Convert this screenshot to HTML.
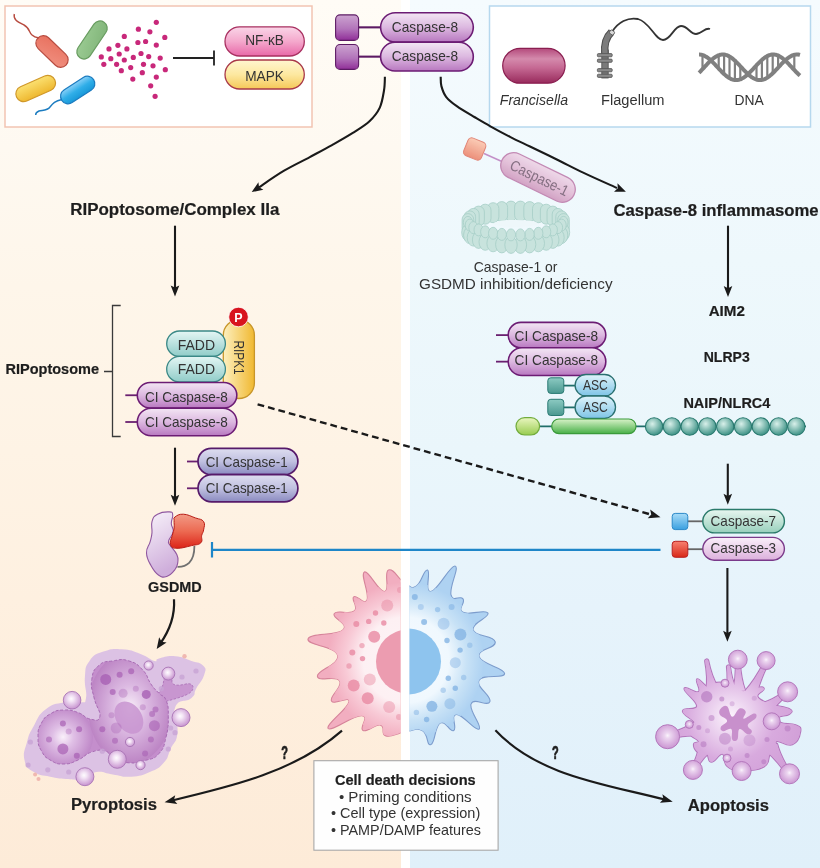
<!DOCTYPE html>
<html><head><meta charset="utf-8"><style>
html,body{margin:0;padding:0;background:#fff;}
svg{display:block;font-family:"Liberation Sans",sans-serif;will-change:transform;}
</style></head><body>
<svg width="820" height="868" viewBox="0 0 820 868">
<defs><linearGradient id="bgL" x1="0" y1="0" x2="0" y2="1"><stop offset="0" stop-color="#fffcf6"/><stop offset="0.17" stop-color="#fef9f1"/><stop offset="0.33" stop-color="#fef6ea"/><stop offset="0.52" stop-color="#fef3e5"/><stop offset="0.69" stop-color="#fef0e0"/><stop offset="1" stop-color="#fdebd8"/></linearGradient><linearGradient id="bgR" x1="0" y1="0" x2="0" y2="1"><stop offset="0" stop-color="#f5fbfe"/><stop offset="0.3" stop-color="#eef8fc"/><stop offset="0.52" stop-color="#eaf6fb"/><stop offset="0.7" stop-color="#e6f3fb"/><stop offset="1" stop-color="#e0f0fa"/></linearGradient><linearGradient id="gC8" x1="0" y1="0" x2="0" y2="1"><stop offset="0" stop-color="#f3e6f4"/><stop offset="0.5" stop-color="#dcb8e0"/><stop offset="1" stop-color="#b878c0"/></linearGradient><linearGradient id="gSq8" x1="0" y1="0" x2="0" y2="1"><stop offset="0" stop-color="#cca4d0"/><stop offset="0.55" stop-color="#b274ba"/><stop offset="1" stop-color="#902e98"/></linearGradient><linearGradient id="gNF" x1="0" y1="0" x2="0" y2="1"><stop offset="0" stop-color="#fad6e8"/><stop offset="0.5" stop-color="#f4a8cc"/><stop offset="1" stop-color="#e868a8"/></linearGradient><linearGradient id="gMAPK" x1="0" y1="0" x2="0" y2="1"><stop offset="0" stop-color="#fff6d0"/><stop offset="0.5" stop-color="#fde8a0"/><stop offset="1" stop-color="#f5c858"/></linearGradient><linearGradient id="gFADD" x1="0" y1="0" x2="0" y2="1"><stop offset="0" stop-color="#e4f6f4"/><stop offset="1" stop-color="#90ccc8"/></linearGradient><linearGradient id="gRIPK" x1="0" y1="0" x2="1" y2="0"><stop offset="0" stop-color="#fdf0c0"/><stop offset="1" stop-color="#f0b830"/></linearGradient><linearGradient id="gC1" x1="0" y1="0" x2="0" y2="1"><stop offset="0" stop-color="#dedef0"/><stop offset="0.5" stop-color="#c0c0e0"/><stop offset="1" stop-color="#8a8ac0"/></linearGradient><linearGradient id="gASC" x1="0" y1="0" x2="0" y2="1"><stop offset="0" stop-color="#e0f4fb"/><stop offset="1" stop-color="#7ec4e6"/></linearGradient><linearGradient id="gSqT" x1="0" y1="0" x2="0" y2="1"><stop offset="0" stop-color="#8ccac2"/><stop offset="1" stop-color="#4a9890"/></linearGradient><linearGradient id="gGreen" x1="0" y1="0" x2="0" y2="1"><stop offset="0" stop-color="#d8f2c8"/><stop offset="1" stop-color="#48b048"/></linearGradient><linearGradient id="gLime" x1="0" y1="0" x2="0" y2="1"><stop offset="0" stop-color="#eaf6c0"/><stop offset="1" stop-color="#98cc50"/></linearGradient><radialGradient id="gBead" cx="0.4" cy="0.35" r="0.6" fx="0.4" fy="0.35"><stop offset="0" stop-color="#d8f0ea"/><stop offset="1" stop-color="#4a9a8e"/></radialGradient><linearGradient id="gC7" x1="0" y1="0" x2="0" y2="1"><stop offset="0" stop-color="#e8f6f0"/><stop offset="1" stop-color="#98d0bc"/></linearGradient><linearGradient id="gC3" x1="0" y1="0" x2="0" y2="1"><stop offset="0" stop-color="#faf0fa"/><stop offset="1" stop-color="#dcb0dc"/></linearGradient><linearGradient id="gSqB" x1="0" y1="0" x2="0" y2="1"><stop offset="0" stop-color="#a8dcf8"/><stop offset="1" stop-color="#3aa0e0"/></linearGradient><linearGradient id="gSqR" x1="0" y1="0" x2="0" y2="1"><stop offset="0" stop-color="#f88070"/><stop offset="1" stop-color="#d82818"/></linearGradient><linearGradient id="gFran" x1="0" y1="0" x2="0" y2="1"><stop offset="0" stop-color="#b44a7c"/><stop offset="0.3" stop-color="#d48aac"/><stop offset="0.55" stop-color="#c66a94"/><stop offset="1" stop-color="#982a5c"/></linearGradient><linearGradient id="gRed" x1="0" y1="0" x2="1" y2="1"><stop offset="0" stop-color="#e8705e"/><stop offset="1" stop-color="#f09080"/></linearGradient><linearGradient id="gGr" x1="0" y1="0" x2="1" y2="1"><stop offset="0" stop-color="#9ccc94"/><stop offset="1" stop-color="#80b478"/></linearGradient><linearGradient id="gYe" x1="0" y1="0" x2="0" y2="1"><stop offset="0" stop-color="#fbe070"/><stop offset="1" stop-color="#eeb830"/></linearGradient><linearGradient id="gBl" x1="0" y1="0" x2="0" y2="1"><stop offset="0" stop-color="#8ad0f8"/><stop offset="0.5" stop-color="#30aee8"/><stop offset="1" stop-color="#1898d8"/></linearGradient><linearGradient id="gC1f" x1="0" y1="0" x2="0" y2="1"><stop offset="0" stop-color="#eed6e8"/><stop offset="0.5" stop-color="#e2bcd6"/><stop offset="1" stop-color="#d09cc0"/></linearGradient><linearGradient id="gSqS" x1="0" y1="0" x2="0" y2="1"><stop offset="0" stop-color="#fcc8b0"/><stop offset="1" stop-color="#ec8870"/></linearGradient><linearGradient id="gLav" x1="0" y1="0" x2="0.3" y2="1"><stop offset="0" stop-color="#f8f2fa"/><stop offset="0.4" stop-color="#e8d8ee"/><stop offset="1" stop-color="#cfaedb"/></linearGradient><linearGradient id="gRedB" x1="0" y1="0" x2="0" y2="1"><stop offset="0" stop-color="#f29a86"/><stop offset="0.5" stop-color="#ec6a52"/><stop offset="1" stop-color="#dc2418"/></linearGradient><clipPath id="clipL"><rect x="0" y="0" width="400.5" height="868"/></clipPath><clipPath id="clipR"><rect x="409.5" y="0" width="420" height="868"/></clipPath><radialGradient id="gPink" cx="0.5" cy="0.5" r="0.5" fx="0.5" fy="0.5"><stop offset="0" stop-color="#fdf4f6"/><stop offset="0.55" stop-color="#fdf0f3"/><stop offset="0.78" stop-color="#f8cad6"/><stop offset="1" stop-color="#f2aec0"/></radialGradient><radialGradient id="gBlue" cx="0.5" cy="0.5" r="0.5" fx="0.5" fy="0.5"><stop offset="0" stop-color="#f6fbff"/><stop offset="0.55" stop-color="#f0f8fe"/><stop offset="0.78" stop-color="#c8e2f6"/><stop offset="1" stop-color="#aed2f2"/></radialGradient><clipPath id="cellclip"><path d="M405.0,583.0 C411.9,587.0 410.5,589.5 416.1,586.2 C421.7,583.0 423.8,568.7 427.5,570.0 C431.2,571.3 424.0,592.5 430.9,591.5 C437.8,590.5 450.0,565.1 455.0,566.0 C460.0,566.9 449.0,586.7 451.0,594.9 C453.0,603.1 460.0,594.5 463.0,598.9 C466.0,603.2 456.8,608.8 463.0,612.3 C469.2,615.8 485.4,608.6 487.9,613.0 C490.4,617.4 471.3,622.6 473.1,629.8 C474.9,637.0 493.7,635.1 495.2,641.8 C496.7,648.5 476.8,648.8 479.1,656.7 C481.5,664.6 504.6,667.6 504.6,673.5 C504.6,679.4 482.8,673.2 479.1,680.2 C475.4,687.2 491.9,695.7 489.9,701.6 C487.9,707.5 473.8,696.8 471.1,703.7 C468.4,710.6 482.8,726.4 479.1,729.1 C475.4,731.8 462.7,714.0 456.3,714.4 C449.9,714.8 457.7,728.3 453.7,730.5 C449.7,732.7 445.9,719.6 440.2,723.1 C434.5,726.6 435.4,742.8 430.9,744.6 C426.4,746.5 428.6,733.6 422.1,730.5 C415.6,727.4 414.1,730.6 405.0,732.0 C395.9,733.4 392.0,737.6 385.9,735.9 C379.8,734.2 386.2,726.5 380.5,725.1 C374.8,723.8 367.7,732.9 363.0,730.5 C358.3,728.1 370.4,716.2 361.7,715.7 C353.0,715.2 331.4,732.0 328.2,728.5 C325.0,725.0 348.2,708.5 349.0,701.6 C349.8,694.7 333.9,706.2 331.5,701.0 C329.1,695.8 343.1,687.1 339.6,680.9 C336.1,674.7 317.9,682.6 317.4,676.2 C316.9,669.8 340.0,664.7 337.6,655.4 C335.2,646.1 306.6,645.4 308.0,639.0 C309.4,632.6 336.4,636.1 343.0,629.8 C349.6,623.5 331.4,618.4 334.2,613.7 C337.0,609.0 349.4,615.2 354.3,611.0 C359.2,606.8 350.5,599.6 353.7,596.9 C356.9,594.1 364.3,606.2 367.0,600.0 C369.7,593.8 360.0,574.1 364.4,572.0 C368.8,569.9 378.5,592.0 384.5,591.5 C390.5,591.0 383.4,572.1 388.5,570.0 C393.6,567.9 398.1,579.0 405.0,583.0 Z"/></clipPath><radialGradient id="gBub" cx="0.45" cy="0.42" r="0.58" fx="0.45" fy="0.42"><stop offset="0" stop-color="#fefcfe"/><stop offset="0.28" stop-color="#f3e4f5"/><stop offset="1" stop-color="#c894d0"/></radialGradient><radialGradient id="gPyroL" cx="0.5" cy="0.5" r="0.5" fx="0.5" fy="0.5"><stop offset="0" stop-color="#faf0fa"/><stop offset="0.35" stop-color="#e0c0e6"/><stop offset="1" stop-color="#bf88c8"/></radialGradient><radialGradient id="gPyroU" cx="0.5" cy="0.5" r="0.5" fx="0.5" fy="0.5"><stop offset="0" stop-color="#f8eef8"/><stop offset="0.4" stop-color="#dcbae2"/><stop offset="1" stop-color="#bc84c4"/></radialGradient><clipPath id="pyroclip"><path d="M38.0,737.0 C38.0,729.5 38.0,729.3 41.5,723.0 C45.0,716.7 45.0,717.0 51.0,713.5 C57.0,710.0 56.8,710.3 64.0,710.0 C71.2,709.7 71.1,710.1 78.0,712.5 C84.9,714.9 84.2,717.9 90.0,719.0 C95.8,720.1 98.8,722.1 99.9,716.5 C101.0,710.9 96.3,707.8 94.1,697.9 C91.9,688.0 90.5,688.0 91.8,679.4 C93.1,670.8 93.2,670.4 98.8,665.5 C104.4,660.6 104.7,662.1 112.7,660.9 C120.7,659.7 120.9,658.4 128.9,660.9 C136.9,663.4 136.9,663.9 142.8,670.1 C148.7,676.3 146.6,677.8 150.9,684.0 C155.2,690.2 155.0,689.0 159.0,693.3 C163.0,697.6 163.5,694.0 166.0,700.2 C168.5,706.4 168.3,706.6 168.3,716.5 C168.3,726.4 168.5,727.4 166.0,737.3 C163.5,747.2 164.6,747.3 159.0,753.5 C153.4,759.7 153.1,758.0 145.1,760.5 C137.1,763.0 137.5,763.4 128.9,762.8 C120.3,762.2 118.9,761.3 112.7,758.2 C106.5,755.1 111.3,752.9 105.7,751.2 C100.1,749.5 99.2,749.7 91.8,752.0 C84.4,754.3 85.4,756.8 78.0,760.0 C70.6,763.2 71.2,763.9 64.0,764.0 C56.8,764.1 57.0,764.0 51.0,760.5 C45.0,757.0 45.0,757.3 41.5,751.0 C38.0,744.7 38.0,744.5 38.0,737.0 Z"/></clipPath><radialGradient id="gApo" cx="0.45" cy="0.45" r="0.5" fx="0.45" fy="0.45"><stop offset="0" stop-color="#fcf4fc"/><stop offset="0.22" stop-color="#efdaf2"/><stop offset="0.62" stop-color="#d8aade"/><stop offset="1" stop-color="#d2a0d8"/></radialGradient><radialGradient id="gBubA" cx="0.5" cy="0.45" r="0.58" fx="0.5" fy="0.45"><stop offset="0" stop-color="#fbf4fc"/><stop offset="0.2" stop-color="#ecd6f0"/><stop offset="1" stop-color="#c890d0"/></radialGradient><clipPath id="apoclip"><path d="M712.0,684.0 C715.9,682.8 720.6,682.3 725.0,683.0 C729.4,683.7 727.9,686.0 731.0,687.0 C734.1,688.0 735.6,686.2 738.4,687.2 C741.2,688.2 739.1,691.0 743.2,691.2 C747.3,691.4 751.2,688.6 756.0,688.0 C760.8,687.4 763.5,686.8 763.8,688.8 C764.1,690.8 756.0,693.2 757.4,696.7 C758.8,700.2 762.6,701.1 770.0,704.0 C777.4,706.9 784.6,706.7 789.0,709.0 C793.4,711.3 791.6,712.1 789.0,714.0 C786.4,715.9 779.9,715.2 778.0,717.3 C776.1,719.4 776.9,721.2 781.0,723.0 C785.1,724.8 791.0,723.2 795.5,725.2 C800.0,727.2 800.9,727.1 800.2,731.6 C799.5,736.1 797.8,742.1 792.3,744.3 C786.8,746.5 779.8,739.8 776.5,741.1 C773.2,742.4 779.5,747.0 778.0,750.0 C776.5,753.0 773.4,749.9 770.1,753.8 C766.8,757.6 770.4,762.7 763.8,766.5 C757.1,770.3 750.1,770.1 741.6,770.0 C733.1,769.9 731.7,769.8 727.3,766.0 C722.9,762.2 726.3,754.8 722.6,753.8 C718.9,752.8 715.2,761.7 711.5,761.7 C707.8,761.7 709.9,756.1 706.7,753.8 C703.6,751.5 701.0,754.2 698.0,752.0 C695.0,749.8 693.8,746.8 694.0,744.3 C694.2,741.8 699.7,743.7 698.8,741.1 C697.9,738.5 690.7,737.1 690.0,733.0 C689.3,728.9 697.3,728.8 695.6,723.7 C693.9,718.6 682.5,715.1 682.9,711.0 C683.3,706.9 696.8,711.4 697.2,706.2 C697.6,701.0 684.1,692.1 684.5,688.8 C684.9,685.5 695.8,694.2 698.8,692.0 C701.8,689.8 695.0,680.2 697.2,679.3 C699.4,678.4 704.8,686.9 708.3,688.0 C711.8,689.1 708.1,685.2 712.0,684.0 Z"/><path d="M735.8,662.1 Q736.3,678.9 733.0,691.1 L745.0,690.5 Q740.7,678.7 739.8,661.9 A2.0,2.0 0 0 0 735.8,662.1 Z"/><path d="M764.3,662.1 Q755.1,680.0 745.3,691.0 L756.0,696.4 Q759.0,682.0 767.9,663.9 A2.0,2.0 0 0 0 764.3,662.1 Z"/><path d="M783.6,692.2 Q773.3,699.8 763.7,702.7 L771.0,712.3 Q776.3,703.8 786.4,695.8 A2.2,2.2 0 0 0 783.6,692.2 Z"/><path d="M670.6,738.4 Q686.3,734.5 698.6,735.6 L695.0,722.0 Q684.9,729.1 669.4,733.6 A2.5,2.5 0 0 0 670.6,738.4 Z"/><path d="M696.0,769.1 Q702.2,758.4 709.6,752.2 L699.1,746.4 Q697.8,756.0 692.0,766.9 A2.2,2.2 0 0 0 696.0,769.1 Z"/><path d="M788.9,769.8 Q780.1,755.8 777.0,743.8 L766.1,750.9 Q775.9,758.6 785.1,772.2 A2.2,2.2 0 0 0 788.9,769.8 Z"/><path d="M705.2,661.3 Q708.3,677.5 706.3,689.9 L718.0,687.6 Q711.5,676.9 708.2,660.7 A1.5,1.5 0 0 0 705.2,661.3 Z"/><path d="M727.0,667.2 Q728.4,679.8 726.6,689.3 L735.6,688.3 Q731.6,679.4 730.0,666.8 A1.5,1.5 0 0 0 727.0,667.2 Z"/></clipPath></defs>
<rect x="0" y="0" width="401" height="868" fill="url(#bgL)"/>
<rect x="401" y="0" width="9" height="868" fill="#ffffff"/>
<rect x="410" y="0" width="410" height="868" fill="url(#bgR)"/>
<rect x="5" y="6" width="307" height="121" fill="#ffffff" stroke="#f2c4b2" stroke-width="1.5"/>
<rect x="489.5" y="6" width="321" height="121" fill="#ffffff" stroke="#b6d8ee" stroke-width="1.5"/>
<g transform="translate(52,51.5) rotate(44)"><rect x="-19.5" y="-7.5" width="39" height="15" rx="7.5" fill="url(#gRed)" stroke="#b84c40" stroke-width="1.2"/></g>
<path d="M14.3,14 C13,20 18,22 24,25 C30,28 29,33 32,35 C34,37 36,37.5 39,38" fill="none" stroke="#b84c40" stroke-width="1.4"/>
<g transform="translate(92,40) rotate(-56)"><rect x="-21.5" y="-7.25" width="43" height="14.5" rx="7.25" fill="url(#gGr)" stroke="#689c60" stroke-width="1.2"/></g>
<g transform="translate(35.7,88.5) rotate(-24)"><rect x="-21.0" y="-7.75" width="42" height="15.5" rx="7.75" fill="url(#gYe)" stroke="#d0982a" stroke-width="1.2"/></g>
<g transform="translate(77.7,90) rotate(-33)"><rect x="-19.0" y="-7.5" width="38" height="15" rx="7.5" fill="url(#gBl)" stroke="#1c7cc0" stroke-width="1.2"/></g>
<path d="M62,99.5 C55,101 53,103 50,107 C47,111 42,110 39,111 C36.5,112 35.5,113 35.7,115" fill="none" stroke="#1c7cc0" stroke-width="1.4"/>
<circle cx="156.3" cy="22.3" r="2.6" fill="#c8287a"/>
<circle cx="138.4" cy="29.2" r="2.6" fill="#c8287a"/>
<circle cx="149.9" cy="31.8" r="2.6" fill="#c8287a"/>
<circle cx="124.3" cy="36.4" r="2.6" fill="#c8287a"/>
<circle cx="164.8" cy="37.4" r="2.6" fill="#c8287a"/>
<circle cx="137.9" cy="42.5" r="2.6" fill="#c8287a"/>
<circle cx="145.6" cy="41.5" r="2.6" fill="#c8287a"/>
<circle cx="156.3" cy="45.1" r="2.6" fill="#c8287a"/>
<circle cx="117.9" cy="45.3" r="2.6" fill="#c8287a"/>
<circle cx="126.9" cy="48.9" r="2.6" fill="#c8287a"/>
<circle cx="109" cy="48.9" r="2.6" fill="#c8287a"/>
<circle cx="141" cy="53.5" r="2.6" fill="#c8287a"/>
<circle cx="119.2" cy="54" r="2.6" fill="#c8287a"/>
<circle cx="133.3" cy="57.4" r="2.6" fill="#c8287a"/>
<circle cx="148.7" cy="56.6" r="2.6" fill="#c8287a"/>
<circle cx="160.2" cy="58.1" r="2.6" fill="#c8287a"/>
<circle cx="110.8" cy="58.7" r="2.6" fill="#c8287a"/>
<circle cx="124.3" cy="60" r="2.6" fill="#c8287a"/>
<circle cx="101.3" cy="56.9" r="2.6" fill="#c8287a"/>
<circle cx="103.8" cy="64.3" r="2.6" fill="#c8287a"/>
<circle cx="116.6" cy="64.3" r="2.6" fill="#c8287a"/>
<circle cx="143.5" cy="64.3" r="2.6" fill="#c8287a"/>
<circle cx="153" cy="65.8" r="2.6" fill="#c8287a"/>
<circle cx="130.7" cy="67.6" r="2.6" fill="#c8287a"/>
<circle cx="165.3" cy="69.7" r="2.6" fill="#c8287a"/>
<circle cx="121.3" cy="70.7" r="2.6" fill="#c8287a"/>
<circle cx="142.3" cy="72.7" r="2.6" fill="#c8287a"/>
<circle cx="156.3" cy="77.1" r="2.6" fill="#c8287a"/>
<circle cx="132.8" cy="79.1" r="2.6" fill="#c8287a"/>
<circle cx="150.7" cy="85.8" r="2.6" fill="#c8287a"/>
<circle cx="155.1" cy="96.3" r="2.6" fill="#c8287a"/>
<path d="M173,58 H214 M214,50.5 V65.5" fill="none" stroke="#222" stroke-width="1.8"/>
<rect x="225.0" y="26.8" width="79.3" height="29.2" rx="14.6" fill="url(#gNF)" stroke="#a83060" stroke-width="1.3" />
<rect x="225.0" y="60.0" width="79.3" height="29.0" rx="14.5" fill="url(#gMAPK)" stroke="#a83848" stroke-width="1.3" />
<text x="245.20" y="45.1" font-size="14.2" font-weight="normal" font-style="normal" fill="#333333" stroke="#333333" stroke-width="0.0" textLength="38.67" lengthAdjust="spacingAndGlyphs" >NF-κB</text>
<text x="245.20" y="80.9" font-size="14.2" font-weight="normal" font-style="normal" fill="#333333" stroke="#333333" stroke-width="0.0" textLength="38.69" lengthAdjust="spacingAndGlyphs" >MAPK</text>
<line x1="358" y1="27.35" x2="382" y2="27.35" stroke="#5c1a64" stroke-width="2.1"/>
<rect x="335.6" y="14.899999999999999" width="23" height="25.5" rx="4.5" fill="url(#gSq8)" stroke="#5c1a64" stroke-width="1.1"/>
<line x1="358" y1="56.65" x2="382" y2="56.65" stroke="#5c1a64" stroke-width="2.1"/>
<rect x="335.6" y="44.5" width="23" height="24.900000000000002" rx="4.5" fill="url(#gSq8)" stroke="#5c1a64" stroke-width="1.1"/>
<rect x="380.6" y="12.7" width="92.7" height="29.3" rx="14.7" fill="url(#gC8)" stroke="#6c1c74" stroke-width="1.6" />
<text x="391.80" y="32.3" font-size="14.8" font-weight="normal" font-style="normal" fill="#333333" stroke="#333333" stroke-width="0.0" textLength="66.21" lengthAdjust="spacingAndGlyphs" >Caspase-8</text>
<rect x="380.6" y="42.3" width="92.7" height="28.7" rx="14.4" fill="url(#gC8)" stroke="#6c1c74" stroke-width="1.6" />
<text x="391.80" y="61.2" font-size="14.8" font-weight="normal" font-style="normal" fill="#333333" stroke="#333333" stroke-width="0.0" textLength="66.21" lengthAdjust="spacingAndGlyphs" >Caspase-8</text>
<path d="M384.9,76.8 C384.8,79.1 384.9,85.4 384.0,90.5 C383.1,95.6 382.2,102.5 379.8,107.6 C377.4,112.7 374.1,116.9 369.5,121.2 C364.9,125.5 358.6,129.2 352.4,133.2 C346.1,137.2 339.1,141.1 332.0,145.1 C324.9,149.1 317.8,152.8 309.8,157.1 C301.8,161.4 292.6,165.7 284.1,170.7 C275.6,175.7 263.2,184.5 259.0,187.3 " fill="none" stroke="#1a1a1a" stroke-width="2.1"/><g transform="translate(251.7,192.1) rotate(146.67371031288494)"><path d="M0,0 L-11,-4.5 L-8.8,0 L-11,4.5 Z" fill="#1a1a1a"/></g>
<path d="M440.7,76.7 C440.8,78.3 440.5,82.8 441.4,86.1 C442.3,89.4 443.5,93.4 446.1,96.8 C448.7,100.2 452.1,102.8 456.8,106.2 C461.5,109.6 468.7,113.7 474.3,117.0 C479.9,120.3 484.4,123.0 490.4,126.3 C496.4,129.7 503.9,133.7 510.5,137.1 C517.1,140.5 522.3,142.8 530.0,146.5 C537.7,150.2 547.8,155.1 556.8,159.5 C565.8,163.9 573.7,168.2 583.7,172.9 C593.7,177.7 611.5,185.5 617.0,188.0 " fill="none" stroke="#1a1a1a" stroke-width="2.1"/><g transform="translate(625.9,191.7) rotate(22.5741380786482)"><path d="M0,0 L-11,-4.5 L-8.8,0 L-11,4.5 Z" fill="#1a1a1a"/></g>
<rect x="502.7" y="48.4" width="62.4" height="34.8" rx="17.4" fill="url(#gFran)" stroke="#8a1e50" stroke-width="1.2" />
<text x="499.80" y="104.6" font-size="13.8" font-weight="normal" font-style="italic" fill="#333333" stroke="#333333" stroke-width="0.0" textLength="68.20" lengthAdjust="spacingAndGlyphs" >Francisella</text>
<path d="M612,32 C618,22 628,17 638,19 C650,22 655,40 663,40 C671,40 674,26 681,26 C688,26 690,34 696,34 C702,34 705,27 710,29" fill="none" stroke="#333" stroke-width="1.8"/>
<rect x="601.8" y="50" width="6.4" height="28" fill="#7a7a7a" stroke="#4e4e4e" stroke-width="0.8"/>
<path d="M605,54 C604,45 605,38 611.5,32" fill="none" stroke="#4e4e4e" stroke-width="7.5"/>
<path d="M605,54 C604,45 605,38 611.5,32" fill="none" stroke="#7c7c7c" stroke-width="5.5"/>
<ellipse cx="612" cy="32.5" rx="2.6" ry="2.2" transform="rotate(40 612 32.5)" fill="#d8d8d8" stroke="#4e4e4e" stroke-width="0.8"/>
<rect x="597.4" y="53.6" width="14.8" height="3.2" rx="1" fill="#8a8a8a" stroke="#505050" stroke-width="0.8"/>
<rect x="597.4" y="59.1" width="14.8" height="3.2" rx="1" fill="#8a8a8a" stroke="#505050" stroke-width="0.8"/>
<rect x="597.4" y="68.60000000000001" width="14.8" height="3.2" rx="1" fill="#8a8a8a" stroke="#505050" stroke-width="0.8"/>
<rect x="597.4" y="74.2" width="14.8" height="3.2" rx="1" fill="#8a8a8a" stroke="#505050" stroke-width="0.8"/>
<text x="601.00" y="104.6" font-size="13.8" font-weight="normal" font-style="normal" fill="#333333" stroke="#333333" stroke-width="0.0" textLength="63.50" lengthAdjust="spacingAndGlyphs" >Flagellum</text>
<line x1="702.5" y1="56.1" x2="702.5" y2="68.2" stroke="#808080" stroke-width="2.2"/><line x1="718.7" y1="56.3" x2="718.7" y2="67.5" stroke="#808080" stroke-width="2.2"/><line x1="724.1" y1="55.6" x2="724.1" y2="73.0" stroke="#808080" stroke-width="2.2"/><line x1="729.5" y1="57.5" x2="729.5" y2="77.2" stroke="#808080" stroke-width="2.2"/><line x1="734.9" y1="61.7" x2="734.9" y2="79.0" stroke="#808080" stroke-width="2.2"/><line x1="740.3" y1="67.2" x2="740.3" y2="78.3" stroke="#808080" stroke-width="2.2"/><line x1="756.5" y1="66.3" x2="756.5" y2="78.6" stroke="#808080" stroke-width="2.2"/><line x1="761.9" y1="60.9" x2="761.9" y2="78.9" stroke="#808080" stroke-width="2.2"/><line x1="767.3" y1="57.1" x2="767.3" y2="76.7" stroke="#808080" stroke-width="2.2"/><line x1="772.7" y1="55.5" x2="772.7" y2="72.3" stroke="#808080" stroke-width="2.2"/><line x1="778.1" y1="56.6" x2="778.1" y2="66.7" stroke="#808080" stroke-width="2.2"/><line x1="794.3" y1="55.8" x2="794.3" y2="69.0" stroke="#808080" stroke-width="2.2"/><polyline points="699.00,54.50 699.50,54.51 700.01,54.55 700.51,54.61 701.02,54.69 701.52,54.79 702.03,54.92 702.53,55.07 703.04,55.24 703.54,55.44 704.05,55.65 704.55,55.89 705.06,56.15 705.57,56.43 706.07,56.73 706.58,57.04 707.08,57.38 707.59,57.74 708.09,58.11 708.60,58.50 709.10,58.90 709.61,59.32 710.11,59.76 710.62,60.21 711.12,60.67 711.62,61.14 712.13,61.63 712.63,62.13 713.14,62.63 713.64,63.14 714.15,63.67 714.65,64.19 715.16,64.73 715.66,65.27 716.17,65.81 716.67,66.35 717.18,66.90 717.68,67.45 718.19,67.99 718.70,68.54 719.20,69.08 719.71,69.62 720.21,70.16 720.72,70.69 721.22,71.21 721.73,71.73 722.23,72.24 722.74,72.74 723.24,73.23 723.75,73.71 724.25,74.18 724.75,74.63 725.26,75.08 725.76,75.50 726.27,75.92 726.77,76.31 727.28,76.69 727.78,77.06 728.29,77.40 728.79,77.73 729.30,78.04 729.80,78.32 730.31,78.59 730.82,78.84 731.32,79.07 731.83,79.27 732.33,79.45 732.84,79.61 733.34,79.75 733.85,79.87 734.35,79.96 734.86,80.03 735.36,80.07 735.87,80.10 736.37,80.10 736.88,80.07 737.38,80.02 737.88,79.95 738.39,79.86 738.89,79.74 739.40,79.60 739.90,79.44 740.41,79.26 740.91,79.05 741.42,78.82 741.92,78.57 742.43,78.30 742.93,78.02 743.44,77.71 743.95,77.38 744.45,77.03 744.96,76.67 745.46,76.29 745.97,75.89 746.47,75.47 746.98,75.05 747.48,74.60 747.99,74.15 748.49,73.68 749.00,73.20 749.50,72.71 750.00,72.21 750.51,71.70 751.01,71.18 751.52,70.65 752.02,70.12 752.53,69.59 753.03,69.05 753.54,68.50 754.04,67.96 754.55,67.41 755.05,66.86 755.56,66.31 756.07,65.77 756.57,65.23 757.08,64.69 757.58,64.16 758.09,63.63 758.59,63.11 759.10,62.60 759.60,62.09 760.11,61.60 760.61,61.11 761.12,60.64 761.62,60.18 762.12,59.73 762.63,59.29 763.13,58.87 763.64,58.47 764.14,58.08 764.65,57.71 765.15,57.36 765.66,57.02 766.16,56.70 766.67,56.41 767.17,56.13 767.68,55.87 768.18,55.64 768.69,55.42 769.19,55.23 769.70,55.06 770.21,54.91 770.71,54.78 771.22,54.68 771.72,54.60 772.23,54.54 772.73,54.51 773.24,54.50 773.74,54.51 774.25,54.55 774.75,54.61 775.25,54.69 775.76,54.80 776.26,54.93 776.77,55.08 777.27,55.25 777.78,55.45 778.28,55.67 778.79,55.91 779.29,56.17 779.80,56.45 780.31,56.75 780.81,57.07 781.32,57.41 781.82,57.76 782.33,58.13 782.83,58.53 783.34,58.93 783.84,59.35 784.35,59.79 784.85,60.24 785.36,60.70 785.86,61.18 786.37,61.66 786.87,62.16 787.38,62.67 787.88,63.18 788.38,63.70 788.89,64.23 789.39,64.76 789.90,65.30 790.40,65.85 790.91,66.39 791.41,66.94 791.92,67.48 792.42,68.03 792.93,68.58 793.43,69.12 793.94,69.66 794.44,70.20 794.95,70.73 795.46,71.25 795.96,71.77 796.47,72.28 796.97,72.78 797.48,73.27 797.98,73.74 798.49,74.21 798.99,74.66 799.50,75.11 800.00,75.53" fill="none" stroke="#808080" stroke-width="4"/><polyline points="699.00,72.80 699.50,72.31 700.01,71.80 700.51,71.28 701.02,70.76 701.52,70.23 702.03,69.69 702.53,69.15 703.04,68.61 703.54,68.06 704.05,67.52 704.55,66.97 705.06,66.42 705.57,65.88 706.07,65.34 706.58,64.80 707.08,64.26 707.59,63.73 708.09,63.21 708.60,62.70 709.10,62.19 709.61,61.69 710.11,61.21 710.62,60.73 711.12,60.27 711.62,59.82 712.13,59.38 712.63,58.96 713.14,58.55 713.64,58.16 714.15,57.78 714.65,57.43 715.16,57.09 715.66,56.77 716.17,56.46 716.67,56.18 717.18,55.92 717.68,55.68 718.19,55.46 718.70,55.27 719.20,55.09 719.71,54.94 720.21,54.81 720.72,54.70 721.22,54.61 721.73,54.55 722.23,54.51 722.74,54.50 723.24,54.51 723.75,54.54 724.25,54.60 724.75,54.67 725.26,54.78 725.76,54.90 726.27,55.05 726.77,55.22 727.28,55.41 727.78,55.62 728.29,55.86 728.79,56.11 729.30,56.39 729.80,56.69 730.31,57.00 730.82,57.34 731.32,57.69 731.83,58.06 732.33,58.45 732.84,58.85 733.34,59.27 733.85,59.70 734.35,60.15 734.86,60.61 735.36,61.08 735.87,61.57 736.37,62.06 736.88,62.56 737.38,63.08 737.88,63.60 738.39,64.13 738.89,64.66 739.40,65.20 739.90,65.74 740.41,66.28 740.91,66.83 741.42,67.38 741.92,67.92 742.43,68.47 742.93,69.01 743.44,69.55 743.95,70.09 744.45,70.62 744.96,71.15 745.46,71.67 745.97,72.18 746.47,72.68 746.98,73.17 747.48,73.65 747.99,74.12 748.49,74.58 749.00,75.02 749.50,75.45 750.00,75.86 750.51,76.26 751.01,76.64 751.52,77.01 752.02,77.36 752.53,77.69 753.03,78.00 753.54,78.29 754.04,78.56 754.55,78.81 755.05,79.04 755.56,79.25 756.07,79.43 756.57,79.59 757.08,79.74 757.58,79.85 758.09,79.95 758.59,80.02 759.10,80.07 759.60,80.10 760.11,80.10 760.61,80.08 761.12,80.03 761.62,79.96 762.12,79.87 762.63,79.76 763.13,79.62 763.64,79.46 764.14,79.28 764.65,79.08 765.15,78.85 765.66,78.61 766.16,78.34 766.67,78.05 767.17,77.75 767.68,77.42 768.18,77.08 768.69,76.71 769.19,76.34 769.70,75.94 770.21,75.53 770.71,75.10 771.22,74.66 771.72,74.21 772.23,73.74 772.73,73.26 773.24,72.77 773.74,72.27 774.25,71.76 774.75,71.25 775.25,70.72 775.76,70.19 776.26,69.65 776.77,69.11 777.27,68.57 777.78,68.03 778.28,67.48 778.79,66.93 779.29,66.38 779.80,65.84 780.31,65.30 780.81,64.76 781.32,64.23 781.82,63.70 782.33,63.17 782.83,62.66 783.34,62.15 783.84,61.66 784.35,61.17 784.85,60.70 785.36,60.23 785.86,59.79 786.37,59.35 786.87,58.93 787.38,58.52 787.88,58.13 788.38,57.76 788.89,57.40 789.39,57.06 789.90,56.74 790.40,56.44 790.91,56.16 791.41,55.90 791.92,55.67 792.42,55.45 792.93,55.25 793.43,55.08 793.94,54.93 794.44,54.80 794.95,54.69 795.46,54.61 795.96,54.55 796.47,54.51 796.97,54.50 797.48,54.51 797.98,54.54 798.49,54.60 798.99,54.68 799.50,54.78 800.00,54.91" fill="none" stroke="#808080" stroke-width="4"/>
<text x="734.60" y="104.8" font-size="13.8" font-weight="normal" font-style="normal" fill="#333333" stroke="#333333" stroke-width="0.0" textLength="29.25" lengthAdjust="spacingAndGlyphs" >DNA</text>
<g opacity="0.92">
<line x1="484" y1="153.5" x2="503" y2="162" stroke="#c088c4" stroke-width="1.6"/>
<g transform="translate(474.7,149) rotate(22)"><rect x="-9.5" y="-9.5" width="19" height="19" rx="4" fill="url(#gSqS)" stroke="#e07c6c" stroke-width="1"/></g>
<g transform="translate(538,177.5) rotate(26)"><rect x="-40" y="-13" width="80" height="26" rx="13" fill="url(#gC1f)" stroke="#bf80ae" stroke-width="1.3"/><text x="-30" y="5" font-size="15" fill="#7c6478" textLength="63" lengthAdjust="spacingAndGlyphs">Caspase-1</text></g>
</g>
<rect x="505.2" y="201.1" width="11.6" height="20" rx="5.8" fill="#c8e3dd" stroke="#a6cec6" stroke-width="0.8"/><rect x="514.6" y="201.1" width="11.6" height="20" rx="5.8" fill="#c8e3dd" stroke="#a6cec6" stroke-width="0.8"/><rect x="523.8" y="201.6" width="11.6" height="20" rx="5.8" fill="#c8e3dd" stroke="#a6cec6" stroke-width="0.8"/><rect x="496.0" y="201.6" width="11.6" height="20" rx="5.8" fill="#c8e3dd" stroke="#a6cec6" stroke-width="0.8"/><rect x="532.5" y="202.7" width="11.6" height="20" rx="5.8" fill="#c8e3dd" stroke="#a6cec6" stroke-width="0.8"/><rect x="487.3" y="202.7" width="11.6" height="20" rx="5.8" fill="#c8e3dd" stroke="#a6cec6" stroke-width="0.8"/><rect x="540.4" y="204.2" width="11.6" height="20" rx="5.8" fill="#c8e3dd" stroke="#a6cec6" stroke-width="0.8"/><rect x="479.4" y="204.2" width="11.6" height="20" rx="5.8" fill="#c8e3dd" stroke="#a6cec6" stroke-width="0.8"/><rect x="547.0" y="206.1" width="11.6" height="20" rx="5.8" fill="#c8e3dd" stroke="#a6cec6" stroke-width="0.8"/><rect x="472.8" y="206.1" width="11.6" height="20" rx="5.8" fill="#c8e3dd" stroke="#a6cec6" stroke-width="0.8"/><rect x="552.2" y="208.4" width="11.6" height="20" rx="5.8" fill="#c8e3dd" stroke="#a6cec6" stroke-width="0.8"/><rect x="467.6" y="208.4" width="11.6" height="20" rx="5.8" fill="#c8e3dd" stroke="#a6cec6" stroke-width="0.8"/><rect x="555.8" y="210.9" width="11.6" height="20" rx="5.8" fill="#c8e3dd" stroke="#a6cec6" stroke-width="0.8"/><rect x="464.0" y="210.9" width="11.6" height="20" rx="5.8" fill="#c8e3dd" stroke="#a6cec6" stroke-width="0.8"/><rect x="462.1" y="213.6" width="11.6" height="20" rx="5.8" fill="#c8e3dd" stroke="#a6cec6" stroke-width="0.8"/><rect x="557.7" y="213.6" width="11.6" height="20" rx="5.8" fill="#c8e3dd" stroke="#a6cec6" stroke-width="0.8"/><ellipse cx="563.5" cy="232.4" rx="6.2" ry="8.5" fill="#c8e3dd" stroke="#a6cec6" stroke-width="0.8"/><ellipse cx="563.5" cy="222.4" rx="4.6" ry="6" fill="#c8e3dd" stroke="#a6cec6" stroke-width="0.8"/><ellipse cx="467.9" cy="232.4" rx="6.2" ry="8.5" fill="#c8e3dd" stroke="#a6cec6" stroke-width="0.8"/><ellipse cx="467.9" cy="222.4" rx="4.6" ry="6" fill="#c8e3dd" stroke="#a6cec6" stroke-width="0.8"/><ellipse cx="561.6" cy="235.1" rx="6.2" ry="8.5" fill="#c8e3dd" stroke="#a6cec6" stroke-width="0.8"/><ellipse cx="561.6" cy="225.1" rx="4.6" ry="6" fill="#c8e3dd" stroke="#a6cec6" stroke-width="0.8"/><ellipse cx="469.8" cy="235.1" rx="6.2" ry="8.5" fill="#c8e3dd" stroke="#a6cec6" stroke-width="0.8"/><ellipse cx="469.8" cy="225.1" rx="4.6" ry="6" fill="#c8e3dd" stroke="#a6cec6" stroke-width="0.8"/><ellipse cx="558.0" cy="237.6" rx="6.2" ry="8.5" fill="#c8e3dd" stroke="#a6cec6" stroke-width="0.8"/><ellipse cx="558.0" cy="227.6" rx="4.6" ry="6" fill="#c8e3dd" stroke="#a6cec6" stroke-width="0.8"/><ellipse cx="473.4" cy="237.6" rx="6.2" ry="8.5" fill="#c8e3dd" stroke="#a6cec6" stroke-width="0.8"/><ellipse cx="473.4" cy="227.6" rx="4.6" ry="6" fill="#c8e3dd" stroke="#a6cec6" stroke-width="0.8"/><ellipse cx="478.6" cy="239.9" rx="6.2" ry="8.5" fill="#c8e3dd" stroke="#a6cec6" stroke-width="0.8"/><ellipse cx="478.6" cy="229.9" rx="4.6" ry="6" fill="#c8e3dd" stroke="#a6cec6" stroke-width="0.8"/><ellipse cx="552.8" cy="239.9" rx="6.2" ry="8.5" fill="#c8e3dd" stroke="#a6cec6" stroke-width="0.8"/><ellipse cx="552.8" cy="229.9" rx="4.6" ry="6" fill="#c8e3dd" stroke="#a6cec6" stroke-width="0.8"/><ellipse cx="546.2" cy="241.8" rx="6.2" ry="8.5" fill="#c8e3dd" stroke="#a6cec6" stroke-width="0.8"/><ellipse cx="546.2" cy="231.8" rx="4.6" ry="6" fill="#c8e3dd" stroke="#a6cec6" stroke-width="0.8"/><ellipse cx="485.2" cy="241.8" rx="6.2" ry="8.5" fill="#c8e3dd" stroke="#a6cec6" stroke-width="0.8"/><ellipse cx="485.2" cy="231.8" rx="4.6" ry="6" fill="#c8e3dd" stroke="#a6cec6" stroke-width="0.8"/><ellipse cx="538.3" cy="243.3" rx="6.2" ry="8.5" fill="#c8e3dd" stroke="#a6cec6" stroke-width="0.8"/><ellipse cx="538.3" cy="233.3" rx="4.6" ry="6" fill="#c8e3dd" stroke="#a6cec6" stroke-width="0.8"/><ellipse cx="493.1" cy="243.3" rx="6.2" ry="8.5" fill="#c8e3dd" stroke="#a6cec6" stroke-width="0.8"/><ellipse cx="493.1" cy="233.3" rx="4.6" ry="6" fill="#c8e3dd" stroke="#a6cec6" stroke-width="0.8"/><ellipse cx="501.8" cy="244.4" rx="6.2" ry="8.5" fill="#c8e3dd" stroke="#a6cec6" stroke-width="0.8"/><ellipse cx="501.8" cy="234.4" rx="4.6" ry="6" fill="#c8e3dd" stroke="#a6cec6" stroke-width="0.8"/><ellipse cx="529.6" cy="244.4" rx="6.2" ry="8.5" fill="#c8e3dd" stroke="#a6cec6" stroke-width="0.8"/><ellipse cx="529.6" cy="234.4" rx="4.6" ry="6" fill="#c8e3dd" stroke="#a6cec6" stroke-width="0.8"/><ellipse cx="520.4" cy="244.9" rx="6.2" ry="8.5" fill="#c8e3dd" stroke="#a6cec6" stroke-width="0.8"/><ellipse cx="520.4" cy="234.9" rx="4.6" ry="6" fill="#c8e3dd" stroke="#a6cec6" stroke-width="0.8"/><ellipse cx="511.0" cy="244.9" rx="6.2" ry="8.5" fill="#c8e3dd" stroke="#a6cec6" stroke-width="0.8"/><ellipse cx="511.0" cy="234.9" rx="4.6" ry="6" fill="#c8e3dd" stroke="#a6cec6" stroke-width="0.8"/>
<ellipse cx="515.7" cy="223.5" rx="22" ry="3.6" fill="#eef7fa"/>
<text x="473.70" y="272.0" font-size="14.2" font-weight="normal" font-style="normal" fill="#333333" stroke="#333333" stroke-width="0.0" textLength="83.77" lengthAdjust="spacingAndGlyphs" >Caspase-1 or</text>
<text x="419.00" y="289.0" font-size="14.2" font-weight="normal" font-style="normal" fill="#333333" stroke="#333333" stroke-width="0.0" textLength="193.53" lengthAdjust="spacingAndGlyphs" >GSDMD inhibition/deficiency</text>
<text x="70.20" y="214.9" font-size="15.8" font-weight="bold" font-style="normal" fill="#1e1e1e" stroke="#1e1e1e" stroke-width="0.2" textLength="209.14" lengthAdjust="spacingAndGlyphs" >RIPoptosome/Complex IIa</text>
<text x="613.40" y="215.5" font-size="15.8" font-weight="bold" font-style="normal" fill="#1e1e1e" stroke="#1e1e1e" stroke-width="0.2" textLength="205.27" lengthAdjust="spacingAndGlyphs" >Caspase-8 inflammasome</text>
<line x1="175" y1="225.7" x2="175" y2="288.4" stroke="#1a1a1a" stroke-width="2.1"/><g transform="translate(175,296.4) rotate(90)"><path d="M0,0 L-11,-4.3 L-8.8,0 L-11,4.3 Z" fill="#1a1a1a"/></g>
<line x1="728" y1="225.7" x2="728" y2="289" stroke="#1a1a1a" stroke-width="2.1"/><g transform="translate(728,297) rotate(90)"><path d="M0,0 L-11,-4.3 L-8.8,0 L-11,4.3 Z" fill="#1a1a1a"/></g>
<path d="M120.7,305.5 H112.5 V436.5 H120.7 M104,371.5 H112.5" fill="none" stroke="#3a3a3a" stroke-width="1.3"/>
<text x="5.50" y="374.1" font-size="14.8" font-weight="bold" font-style="normal" fill="#1e1e1e" stroke="#1e1e1e" stroke-width="0.2" textLength="93.50" lengthAdjust="spacingAndGlyphs" >RIPoptosome</text>
<rect x="223.3" y="319.7" width="31.1" height="78.8" rx="15.5" fill="url(#gRIPK)" stroke="#c8962a" stroke-width="1.3" />
<g transform="translate(233.9,357.5) rotate(90)"><text x="-17.10" y="0.0" font-size="14.4" font-weight="normal" font-style="normal" fill="#333333" stroke="#333333" stroke-width="0.0" textLength="34.20" lengthAdjust="spacingAndGlyphs" >RIPK1</text></g>
<circle cx="238.5" cy="317" r="9.8" fill="#d8141e" stroke="#ffffff" stroke-width="0.8"/>
<text x="238.5" y="321.6" font-size="12.5" font-weight="bold" fill="#ffffff" text-anchor="middle">P</text>
<rect x="166.7" y="331.0" width="58.7" height="25.4" rx="12.7" fill="url(#gFADD)" stroke="#3a8886" stroke-width="1.3" />
<text x="177.70" y="349.8" font-size="14.6" font-weight="normal" font-style="normal" fill="#333333" stroke="#333333" stroke-width="0.0" textLength="37.33" lengthAdjust="spacingAndGlyphs" >FADD</text>
<rect x="166.7" y="356.4" width="58.7" height="25.5" rx="12.8" fill="url(#gFADD)" stroke="#3a8886" stroke-width="1.3" />
<text x="177.70" y="374.2" font-size="14.6" font-weight="normal" font-style="normal" fill="#333333" stroke="#333333" stroke-width="0.0" textLength="37.33" lengthAdjust="spacingAndGlyphs" >FADD</text>
<line x1="125.3" y1="395.25" x2="138" y2="395.25" stroke="#6a2070" stroke-width="1.8"/>
<rect x="137.3" y="382.5" width="99.5" height="25.5" rx="12.8" fill="url(#gC8)" stroke="#6c1c74" stroke-width="1.6" />
<text x="144.90" y="401.6" font-size="14.8" font-weight="normal" font-style="normal" fill="#333333" stroke="#333333" stroke-width="0.0" textLength="82.89" lengthAdjust="spacingAndGlyphs" >CI Caspase-8</text>
<line x1="125.3" y1="422.0" x2="138" y2="422.0" stroke="#6a2070" stroke-width="1.8"/>
<rect x="137.3" y="408.2" width="99.5" height="27.6" rx="13.8" fill="url(#gC8)" stroke="#6c1c74" stroke-width="1.6" />
<text x="144.90" y="426.9" font-size="14.8" font-weight="normal" font-style="normal" fill="#333333" stroke="#333333" stroke-width="0.0" textLength="82.89" lengthAdjust="spacingAndGlyphs" >CI Caspase-8</text>
<line x1="257.6" y1="404.3" x2="651" y2="514.6" stroke="#1a1a1a" stroke-width="2.4" stroke-dasharray="6.8,4"/>
<g transform="translate(660.5,517.2) rotate(15.7)"><path d="M0,0 L-12,-4.5 L-9.600000000000001,0 L-12,4.5 Z" fill="#1a1a1a"/></g>
<line x1="175" y1="447.7" x2="175" y2="497.7" stroke="#1a1a1a" stroke-width="2.1"/><g transform="translate(175,505.7) rotate(90)"><path d="M0,0 L-11,-4.3 L-8.8,0 L-11,4.3 Z" fill="#1a1a1a"/></g>
<line x1="187" y1="461.5" x2="199" y2="461.5" stroke="#6a2070" stroke-width="1.8"/>
<rect x="198.0" y="448.3" width="99.9" height="26.4" rx="13.2" fill="url(#gC1)" stroke="#561a6a" stroke-width="1.7" />
<text x="205.70" y="467.4" font-size="14.8" font-weight="normal" font-style="normal" fill="#333333" stroke="#333333" stroke-width="0.0" textLength="81.89" lengthAdjust="spacingAndGlyphs" >CI Caspase-1</text>
<line x1="187" y1="488.29999999999995" x2="199" y2="488.29999999999995" stroke="#6a2070" stroke-width="1.8"/>
<rect x="198.0" y="474.7" width="99.9" height="27.2" rx="13.6" fill="url(#gC1)" stroke="#561a6a" stroke-width="1.7" />
<text x="205.70" y="493.3" font-size="14.8" font-weight="normal" font-style="normal" fill="#333333" stroke="#333333" stroke-width="0.0" textLength="81.89" lengthAdjust="spacingAndGlyphs" >CI Caspase-1</text>
<path d="M177.5,566.8 C186,567 194.4,563 194.4,546" fill="none" stroke="#707070" stroke-width="1.8"/>
<path d="M169.5,511.9 C173.0,512.1 172.3,512.4 172.7,515.1 C173.1,517.8 171.2,519.5 171.3,523.4 C171.4,527.3 173.8,527.6 173.2,531.7 C172.6,535.8 169.3,537.7 168.6,540.9 C167.9,544.1 168.5,542.4 170.4,545.6 C172.3,548.8 175.2,550.9 176.9,554.8 C178.6,558.6 178.2,558.7 177.8,562.1 C177.4,565.5 177.6,566.2 175.0,569.5 C172.4,572.8 170.6,575.1 166.7,576.4 C162.8,577.7 162.0,577.5 158.4,575.0 C154.8,572.5 153.9,571.0 151.1,565.8 C148.3,560.6 146.7,558.5 146.5,552.9 C146.3,547.3 148.8,546.6 150.1,541.9 C151.4,537.2 151.6,537.3 152.0,532.6 C152.4,527.9 150.7,525.9 152.0,521.6 C153.3,517.3 153.4,516.5 157.5,514.2 C161.6,511.9 166.0,511.7 169.5,511.9 Z" fill="url(#gLav)" stroke="#9058a0" stroke-width="1.1"/>
<path d="M175.0,517.0 C177.1,515.5 178.6,514.0 183.3,514.2 C188.0,514.4 190.6,516.2 195.3,517.9 C200.0,519.6 201.7,518.8 203.6,521.6 C205.5,524.4 204.0,526.7 203.6,529.9 C203.2,533.1 202.4,532.4 201.7,535.4 C201.0,538.4 203.2,540.4 200.8,542.8 C198.4,545.2 197.2,544.3 191.6,545.6 C186.0,546.9 181.8,548.5 176.9,548.3 C172.0,548.1 171.5,547.6 170.4,544.6 C169.3,541.6 171.4,539.3 172.3,535.4 C173.2,531.5 173.7,531.4 174.1,528.0 C174.5,524.6 173.9,523.3 174.1,520.7 C174.3,518.1 172.9,518.5 175.0,517.0 Z" fill="url(#gRedB)" stroke="#b81a14" stroke-width="1"/>
<text x="148.10" y="591.9" font-size="14.8" font-weight="bold" font-style="normal" fill="#1e1e1e" stroke="#1e1e1e" stroke-width="0.2" textLength="53.63" lengthAdjust="spacingAndGlyphs" >GSDMD</text>
<path d="M212,549.8 H660.5 M212,542 V557.5" fill="none" stroke="#1e86c8" stroke-width="2.2"/>
<text x="708.70" y="315.6" font-size="14.8" font-weight="bold" font-style="normal" fill="#1e1e1e" stroke="#1e1e1e" stroke-width="0.2" textLength="36.19" lengthAdjust="spacingAndGlyphs" >AIM2</text>
<text x="703.70" y="361.9" font-size="14.8" font-weight="bold" font-style="normal" fill="#1e1e1e" stroke="#1e1e1e" stroke-width="0.2" textLength="46.08" lengthAdjust="spacingAndGlyphs" >NLRP3</text>
<text x="683.40" y="408.3" font-size="14.8" font-weight="bold" font-style="normal" fill="#1e1e1e" stroke="#1e1e1e" stroke-width="0.2" textLength="87.01" lengthAdjust="spacingAndGlyphs" >NAIP/NLRC4</text>
<line x1="496" y1="335.1" x2="509" y2="335.1" stroke="#6a2070" stroke-width="1.8"/>
<rect x="508.2" y="322.4" width="97.6" height="25.4" rx="12.7" fill="url(#gC8)" stroke="#6c1c74" stroke-width="1.6" />
<text x="514.60" y="341.0" font-size="14.8" font-weight="normal" font-style="normal" fill="#333333" stroke="#333333" stroke-width="0.0" textLength="83.49" lengthAdjust="spacingAndGlyphs" >CI Caspase-8</text>
<line x1="496" y1="361.65" x2="509" y2="361.65" stroke="#6a2070" stroke-width="1.8"/>
<rect x="508.2" y="347.8" width="97.6" height="27.7" rx="13.8" fill="url(#gC8)" stroke="#6c1c74" stroke-width="1.6" />
<text x="514.60" y="364.8" font-size="14.8" font-weight="normal" font-style="normal" fill="#333333" stroke="#333333" stroke-width="0.0" textLength="83.49" lengthAdjust="spacingAndGlyphs" >CI Caspase-8</text>
<line x1="563" y1="385.6" x2="576" y2="385.6" stroke="#1f6e6a" stroke-width="1.8"/>
<rect x="547.8" y="377.8" width="16" height="15.599999999999966" rx="3" fill="url(#gSqT)" stroke="#2a7a74" stroke-width="1"/>
<rect x="575.1" y="374.5" width="40.4" height="21.5" rx="10.8" fill="url(#gASC)" stroke="#2a7070" stroke-width="1.3" />
<text x="582.90" y="389.7" font-size="14.4" font-weight="normal" font-style="normal" fill="#333333" stroke="#333333" stroke-width="0.0" textLength="25.02" lengthAdjust="spacingAndGlyphs" >ASC</text>
<line x1="563" y1="407.4" x2="576" y2="407.4" stroke="#1f6e6a" stroke-width="1.8"/>
<rect x="547.8" y="399.3" width="16" height="16.19999999999999" rx="3" fill="url(#gSqT)" stroke="#2a7a74" stroke-width="1"/>
<rect x="575.1" y="396.0" width="40.4" height="22.4" rx="11.2" fill="url(#gASC)" stroke="#2a7070" stroke-width="1.3" />
<text x="582.90" y="411.6" font-size="14.4" font-weight="normal" font-style="normal" fill="#333333" stroke="#333333" stroke-width="0.0" textLength="25.02" lengthAdjust="spacingAndGlyphs" >ASC</text>
<line x1="539" y1="426.3" x2="806" y2="426.3" stroke="#1f6e6a" stroke-width="1.8"/>
<rect x="516.0" y="417.6" width="23.6" height="17.4" rx="8.7" fill="url(#gLime)" stroke="#72ac3c" stroke-width="1.2" />
<rect x="551.7" y="419.0" width="84.3" height="14.6" rx="7.3" fill="url(#gGreen)" stroke="#3a9a3a" stroke-width="1.2" />
<circle cx="654.1" cy="426.5" r="8.7" fill="url(#gBead)" stroke="#2a7a70" stroke-width="1.1"/>
<circle cx="671.9" cy="426.5" r="8.7" fill="url(#gBead)" stroke="#2a7a70" stroke-width="1.1"/>
<circle cx="689.7" cy="426.5" r="8.7" fill="url(#gBead)" stroke="#2a7a70" stroke-width="1.1"/>
<circle cx="707.4" cy="426.5" r="8.7" fill="url(#gBead)" stroke="#2a7a70" stroke-width="1.1"/>
<circle cx="725.2" cy="426.5" r="8.7" fill="url(#gBead)" stroke="#2a7a70" stroke-width="1.1"/>
<circle cx="743.0" cy="426.5" r="8.7" fill="url(#gBead)" stroke="#2a7a70" stroke-width="1.1"/>
<circle cx="760.8" cy="426.5" r="8.7" fill="url(#gBead)" stroke="#2a7a70" stroke-width="1.1"/>
<circle cx="778.6" cy="426.5" r="8.7" fill="url(#gBead)" stroke="#2a7a70" stroke-width="1.1"/>
<circle cx="796.3" cy="426.5" r="8.7" fill="url(#gBead)" stroke="#2a7a70" stroke-width="1.1"/>
<line x1="727.8" y1="463.7" x2="727.8" y2="496.7" stroke="#1a1a1a" stroke-width="2.1"/><g transform="translate(727.8,504.7) rotate(90)"><path d="M0,0 L-11,-4.3 L-8.8,0 L-11,4.3 Z" fill="#1a1a1a"/></g>
<line x1="687" y1="521.3" x2="704" y2="521.3" stroke="#666" stroke-width="1.8"/>
<line x1="687" y1="549.2" x2="704" y2="549.2" stroke="#666" stroke-width="1.8"/>
<rect x="672.2" y="513.4" width="15.6" height="16.2" rx="3" fill="url(#gSqB)" stroke="#2a88c8" stroke-width="1"/>
<rect x="672.2" y="541.3" width="15.6" height="16" rx="3" fill="url(#gSqR)" stroke="#b82020" stroke-width="1"/>
<rect x="702.8" y="509.5" width="81.6" height="23.4" rx="11.7" fill="url(#gC7)" stroke="#2a7a6a" stroke-width="1.4" />
<rect x="702.8" y="537.4" width="81.6" height="22.8" rx="11.4" fill="url(#gC3)" stroke="#7a3a8a" stroke-width="1.4" />
<text x="710.60" y="525.7" font-size="14.6" font-weight="normal" font-style="normal" fill="#333333" stroke="#333333" stroke-width="0.0" textLength="65.41" lengthAdjust="spacingAndGlyphs" >Caspase-7</text>
<text x="710.60" y="553.4" font-size="14.6" font-weight="normal" font-style="normal" fill="#333333" stroke="#333333" stroke-width="0.0" textLength="65.41" lengthAdjust="spacingAndGlyphs" >Caspase-3</text>
<line x1="727.4" y1="568" x2="727.4" y2="633.8" stroke="#1a1a1a" stroke-width="2.1"/><g transform="translate(727.4,641.8) rotate(90)"><path d="M0,0 L-11,-4.3 L-8.8,0 L-11,4.3 Z" fill="#1a1a1a"/></g>
<g clip-path="url(#clipL)"><path d="M405.0,583.0 C411.9,587.0 410.5,589.5 416.1,586.2 C421.7,583.0 423.8,568.7 427.5,570.0 C431.2,571.3 424.0,592.5 430.9,591.5 C437.8,590.5 450.0,565.1 455.0,566.0 C460.0,566.9 449.0,586.7 451.0,594.9 C453.0,603.1 460.0,594.5 463.0,598.9 C466.0,603.2 456.8,608.8 463.0,612.3 C469.2,615.8 485.4,608.6 487.9,613.0 C490.4,617.4 471.3,622.6 473.1,629.8 C474.9,637.0 493.7,635.1 495.2,641.8 C496.7,648.5 476.8,648.8 479.1,656.7 C481.5,664.6 504.6,667.6 504.6,673.5 C504.6,679.4 482.8,673.2 479.1,680.2 C475.4,687.2 491.9,695.7 489.9,701.6 C487.9,707.5 473.8,696.8 471.1,703.7 C468.4,710.6 482.8,726.4 479.1,729.1 C475.4,731.8 462.7,714.0 456.3,714.4 C449.9,714.8 457.7,728.3 453.7,730.5 C449.7,732.7 445.9,719.6 440.2,723.1 C434.5,726.6 435.4,742.8 430.9,744.6 C426.4,746.5 428.6,733.6 422.1,730.5 C415.6,727.4 414.1,730.6 405.0,732.0 C395.9,733.4 392.0,737.6 385.9,735.9 C379.8,734.2 386.2,726.5 380.5,725.1 C374.8,723.8 367.7,732.9 363.0,730.5 C358.3,728.1 370.4,716.2 361.7,715.7 C353.0,715.2 331.4,732.0 328.2,728.5 C325.0,725.0 348.2,708.5 349.0,701.6 C349.8,694.7 333.9,706.2 331.5,701.0 C329.1,695.8 343.1,687.1 339.6,680.9 C336.1,674.7 317.9,682.6 317.4,676.2 C316.9,669.8 340.0,664.7 337.6,655.4 C335.2,646.1 306.6,645.4 308.0,639.0 C309.4,632.6 336.4,636.1 343.0,629.8 C349.6,623.5 331.4,618.4 334.2,613.7 C337.0,609.0 349.4,615.2 354.3,611.0 C359.2,606.8 350.5,599.6 353.7,596.9 C356.9,594.1 364.3,606.2 367.0,600.0 C369.7,593.8 360.0,574.1 364.4,572.0 C368.8,569.9 378.5,592.0 384.5,591.5 C390.5,591.0 383.4,572.1 388.5,570.0 C393.6,567.9 398.1,579.0 405.0,583.0 Z" fill="#f2aec0" stroke="#d6849a" stroke-width="1.1"/><circle cx="406" cy="660" r="78" fill="url(#gPink)" clip-path="url(#cellclip)"/><circle cx="408" cy="661.5" r="32" fill="#ec9cb0"/>
<circle cx="387.2" cy="605.6" r="6" fill="#e88aa2" opacity="0.5"/>
<circle cx="375.5" cy="613" r="2.7" fill="#e88aa2" opacity="0.8"/>
<circle cx="356.3" cy="624.1" r="3" fill="#e88aa2" opacity="0.8"/>
<circle cx="368.7" cy="621.4" r="2.7" fill="#e88aa2" opacity="0.8"/>
<circle cx="383.8" cy="623" r="2.7" fill="#e88aa2" opacity="0.8"/>
<circle cx="374.2" cy="636.7" r="6" fill="#e88aa2" opacity="0.8"/>
<circle cx="362" cy="645.6" r="2.7" fill="#e88aa2" opacity="0.6"/>
<circle cx="352.3" cy="652.6" r="3" fill="#e88aa2" opacity="0.8"/>
<circle cx="362.5" cy="658.6" r="2.7" fill="#e88aa2" opacity="0.8"/>
<circle cx="349" cy="666" r="2.7" fill="#e88aa2" opacity="0.6"/>
<circle cx="369.8" cy="679.5" r="6" fill="#e88aa2" opacity="0.45"/>
<circle cx="353.7" cy="685.5" r="6" fill="#e88aa2" opacity="0.8"/>
<circle cx="367.7" cy="698.3" r="6" fill="#e88aa2" opacity="0.8"/>
<circle cx="389.2" cy="707" r="6" fill="#e88aa2" opacity="0.45"/>
<circle cx="399" cy="717" r="3" fill="#e88aa2" opacity="0.5"/>
<circle cx="400" cy="590" r="3" fill="#e88aa2" opacity="0.5"/>
</g>
<g clip-path="url(#clipR)"><path d="M405.0,583.0 C411.9,587.0 410.5,589.5 416.1,586.2 C421.7,583.0 423.8,568.7 427.5,570.0 C431.2,571.3 424.0,592.5 430.9,591.5 C437.8,590.5 450.0,565.1 455.0,566.0 C460.0,566.9 449.0,586.7 451.0,594.9 C453.0,603.1 460.0,594.5 463.0,598.9 C466.0,603.2 456.8,608.8 463.0,612.3 C469.2,615.8 485.4,608.6 487.9,613.0 C490.4,617.4 471.3,622.6 473.1,629.8 C474.9,637.0 493.7,635.1 495.2,641.8 C496.7,648.5 476.8,648.8 479.1,656.7 C481.5,664.6 504.6,667.6 504.6,673.5 C504.6,679.4 482.8,673.2 479.1,680.2 C475.4,687.2 491.9,695.7 489.9,701.6 C487.9,707.5 473.8,696.8 471.1,703.7 C468.4,710.6 482.8,726.4 479.1,729.1 C475.4,731.8 462.7,714.0 456.3,714.4 C449.9,714.8 457.7,728.3 453.7,730.5 C449.7,732.7 445.9,719.6 440.2,723.1 C434.5,726.6 435.4,742.8 430.9,744.6 C426.4,746.5 428.6,733.6 422.1,730.5 C415.6,727.4 414.1,730.6 405.0,732.0 C395.9,733.4 392.0,737.6 385.9,735.9 C379.8,734.2 386.2,726.5 380.5,725.1 C374.8,723.8 367.7,732.9 363.0,730.5 C358.3,728.1 370.4,716.2 361.7,715.7 C353.0,715.2 331.4,732.0 328.2,728.5 C325.0,725.0 348.2,708.5 349.0,701.6 C349.8,694.7 333.9,706.2 331.5,701.0 C329.1,695.8 343.1,687.1 339.6,680.9 C336.1,674.7 317.9,682.6 317.4,676.2 C316.9,669.8 340.0,664.7 337.6,655.4 C335.2,646.1 306.6,645.4 308.0,639.0 C309.4,632.6 336.4,636.1 343.0,629.8 C349.6,623.5 331.4,618.4 334.2,613.7 C337.0,609.0 349.4,615.2 354.3,611.0 C359.2,606.8 350.5,599.6 353.7,596.9 C356.9,594.1 364.3,606.2 367.0,600.0 C369.7,593.8 360.0,574.1 364.4,572.0 C368.8,569.9 378.5,592.0 384.5,591.5 C390.5,591.0 383.4,572.1 388.5,570.0 C393.6,567.9 398.1,579.0 405.0,583.0 Z" fill="#aed2f2" stroke="#7c9ccc" stroke-width="1.1"/><circle cx="406" cy="660" r="78" fill="url(#gBlue)" clip-path="url(#cellclip)"/><circle cx="408" cy="661.5" r="33" fill="#8ec4ee"/>
<circle cx="414.8" cy="596.9" r="3" fill="#84b4e4" opacity="0.8"/>
<circle cx="420.8" cy="607" r="3" fill="#84b4e4" opacity="0.45"/>
<circle cx="437.6" cy="609.6" r="2.7" fill="#84b4e4" opacity="0.6"/>
<circle cx="451.6" cy="607" r="3" fill="#84b4e4" opacity="0.6"/>
<circle cx="424.1" cy="622" r="3" fill="#84b4e4" opacity="0.8"/>
<circle cx="443.6" cy="623.7" r="6" fill="#84b4e4" opacity="0.45"/>
<circle cx="460.4" cy="634.5" r="6" fill="#84b4e4" opacity="0.8"/>
<circle cx="447" cy="640.5" r="2.7" fill="#84b4e4" opacity="0.8"/>
<circle cx="469.8" cy="645.2" r="2.7" fill="#84b4e4" opacity="0.5"/>
<circle cx="460.1" cy="650.1" r="2.7" fill="#84b4e4" opacity="0.8"/>
<circle cx="455.3" cy="662.7" r="5.5" fill="#84b4e4" opacity="0.45"/>
<circle cx="448.3" cy="678.2" r="2.7" fill="#84b4e4" opacity="0.8"/>
<circle cx="463.7" cy="677.5" r="2.7" fill="#84b4e4" opacity="0.5"/>
<circle cx="455.3" cy="688.2" r="2.7" fill="#84b4e4" opacity="0.8"/>
<circle cx="443.2" cy="690.2" r="2.7" fill="#84b4e4" opacity="0.5"/>
<circle cx="431.9" cy="706.3" r="5.5" fill="#84b4e4" opacity="0.8"/>
<circle cx="449.9" cy="703.7" r="5.5" fill="#84b4e4" opacity="0.5"/>
<circle cx="416.4" cy="712.4" r="2.7" fill="#84b4e4" opacity="0.5"/>
<circle cx="426.6" cy="719.5" r="2.7" fill="#84b4e4" opacity="0.8"/>
</g>
<path d="M24.6,760.5 C22.8,752.5 24.5,751.3 27.0,742.0 C29.5,732.7 29.0,734.4 33.9,725.7 C38.8,717.0 37.5,715.7 45.5,709.5 C53.5,703.3 54.7,704.4 64.0,702.6 C73.3,700.8 74.3,703.9 80.2,702.6 C86.1,701.3 84.7,704.7 86.0,697.9 C87.3,691.1 84.0,687.0 84.9,677.1 C85.8,667.2 84.6,667.7 89.5,660.9 C94.4,654.1 94.8,654.7 103.4,651.6 C112.0,648.5 112.0,648.7 121.9,649.3 C131.8,649.9 131.8,650.8 140.5,653.9 C149.2,657.0 149.5,659.7 154.4,660.9 C159.3,662.1 153.5,659.8 159.0,658.5 C164.5,657.2 166.5,655.6 175.2,656.2 C183.9,656.8 184.1,658.4 191.5,660.9 C198.9,663.4 199.6,661.8 203.0,665.5 C206.4,669.2 206.0,668.6 204.2,674.8 C202.4,681.0 199.5,682.5 196.1,688.7 C192.7,694.9 197.1,693.0 191.5,697.9 C185.9,702.8 178.9,697.9 175.2,707.2 C171.5,716.5 178.7,721.6 177.5,732.7 C176.3,743.8 174.3,740.9 170.6,748.9 C166.9,756.9 169.2,756.6 163.7,762.8 C158.2,769.0 158.5,768.4 149.8,772.1 C141.1,775.8 141.1,776.1 131.2,776.7 C121.3,777.3 122.0,775.6 112.7,774.4 C103.4,773.2 103.9,770.9 96.5,772.1 C89.1,773.3 93.0,777.2 84.9,779.0 C76.8,780.8 75.6,779.6 66.3,779.0 C57.0,778.4 58.7,778.5 50.1,776.7 C41.5,774.9 40.7,776.4 33.9,772.1 C27.1,767.8 26.4,768.5 24.6,760.5 Z" fill="#dcc2e4"/>
<path d="M158,694 C165,686 163,678 166,670 C170,664 176,670 172,680 C171,686 178,686 186,684 C194,682 196,690 188,694 C180,698 170,700 164,702 Z" fill="#c896d0" stroke="#a86cb4" stroke-width="0.8" stroke-dasharray="2.5,1.5"/>
<path d="M38.0,737.0 C38.0,729.5 38.0,729.3 41.5,723.0 C45.0,716.7 45.0,717.0 51.0,713.5 C57.0,710.0 56.8,710.3 64.0,710.0 C71.2,709.7 71.1,710.1 78.0,712.5 C84.9,714.9 84.2,717.9 90.0,719.0 C95.8,720.1 98.8,722.1 99.9,716.5 C101.0,710.9 96.3,707.8 94.1,697.9 C91.9,688.0 90.5,688.0 91.8,679.4 C93.1,670.8 93.2,670.4 98.8,665.5 C104.4,660.6 104.7,662.1 112.7,660.9 C120.7,659.7 120.9,658.4 128.9,660.9 C136.9,663.4 136.9,663.9 142.8,670.1 C148.7,676.3 146.6,677.8 150.9,684.0 C155.2,690.2 155.0,689.0 159.0,693.3 C163.0,697.6 163.5,694.0 166.0,700.2 C168.5,706.4 168.3,706.6 168.3,716.5 C168.3,726.4 168.5,727.4 166.0,737.3 C163.5,747.2 164.6,747.3 159.0,753.5 C153.4,759.7 153.1,758.0 145.1,760.5 C137.1,763.0 137.5,763.4 128.9,762.8 C120.3,762.2 118.9,761.3 112.7,758.2 C106.5,755.1 111.3,752.9 105.7,751.2 C100.1,749.5 99.2,749.7 91.8,752.0 C84.4,754.3 85.4,756.8 78.0,760.0 C70.6,763.2 71.2,763.9 64.0,764.0 C56.8,764.1 57.0,764.0 51.0,760.5 C45.0,757.0 45.0,757.3 41.5,751.0 C38.0,744.7 38.0,744.5 38.0,737.0 Z" fill="#c48ecc"/>
<g clip-path="url(#pyroclip)"><circle cx="63" cy="737" r="30" fill="url(#gPyroL)"/><ellipse cx="130" cy="708" rx="42" ry="56" fill="url(#gPyroU)"/></g>
<path d="M38.0,737.0 C38.0,729.5 38.0,729.3 41.5,723.0 C45.0,716.7 45.0,717.0 51.0,713.5 C57.0,710.0 56.8,710.3 64.0,710.0 C71.2,709.7 71.1,710.1 78.0,712.5 C84.9,714.9 84.2,717.9 90.0,719.0 C95.8,720.1 98.8,722.1 99.9,716.5 C101.0,710.9 96.3,707.8 94.1,697.9 C91.9,688.0 90.5,688.0 91.8,679.4 C93.1,670.8 93.2,670.4 98.8,665.5 C104.4,660.6 104.7,662.1 112.7,660.9 C120.7,659.7 120.9,658.4 128.9,660.9 C136.9,663.4 136.9,663.9 142.8,670.1 C148.7,676.3 146.6,677.8 150.9,684.0 C155.2,690.2 155.0,689.0 159.0,693.3 C163.0,697.6 163.5,694.0 166.0,700.2 C168.5,706.4 168.3,706.6 168.3,716.5 C168.3,726.4 168.5,727.4 166.0,737.3 C163.5,747.2 164.6,747.3 159.0,753.5 C153.4,759.7 153.1,758.0 145.1,760.5 C137.1,763.0 137.5,763.4 128.9,762.8 C120.3,762.2 118.9,761.3 112.7,758.2 C106.5,755.1 111.3,752.9 105.7,751.2 C100.1,749.5 99.2,749.7 91.8,752.0 C84.4,754.3 85.4,756.8 78.0,760.0 C70.6,763.2 71.2,763.9 64.0,764.0 C56.8,764.1 57.0,764.0 51.0,760.5 C45.0,757.0 45.0,757.3 41.5,751.0 C38.0,744.7 38.0,744.5 38.0,737.0 Z" fill="none" stroke="#a466b0" stroke-width="0.9" stroke-dasharray="3,1.8"/>
<g transform="translate(128.9,717.6) rotate(-35)"><ellipse cx="0" cy="0" rx="12.7" ry="17.5" fill="#c894d0" opacity="0.85"/></g>
<circle cx="105.7" cy="679.4" r="5.5" fill="#a860b4" opacity="0.8"/>
<circle cx="119.6" cy="674.8" r="3" fill="#a860b4" opacity="0.7"/>
<circle cx="131.2" cy="671.3" r="3" fill="#a860b4" opacity="0.7"/>
<circle cx="112.7" cy="692.1" r="3" fill="#a860b4" opacity="0.7"/>
<circle cx="123.1" cy="693.3" r="4.5" fill="#a860b4" opacity="0.35"/>
<circle cx="146.3" cy="694.4" r="4.5" fill="#a860b4" opacity="0.8"/>
<circle cx="135.8" cy="688.7" r="3" fill="#a860b4" opacity="0.35"/>
<circle cx="155.5" cy="709.5" r="3" fill="#a860b4" opacity="0.6"/>
<circle cx="142.8" cy="707.2" r="3" fill="#a860b4" opacity="0.35"/>
<circle cx="152.1" cy="714.1" r="3" fill="#a860b4" opacity="0.6"/>
<circle cx="154.4" cy="725.7" r="5.5" fill="#a860b4" opacity="0.6"/>
<circle cx="111.5" cy="715.3" r="3" fill="#a860b4" opacity="0.35"/>
<circle cx="102.3" cy="729.2" r="3" fill="#a860b4" opacity="0.7"/>
<circle cx="116.2" cy="728" r="5.5" fill="#a860b4" opacity="0.35"/>
<circle cx="115" cy="740.8" r="3" fill="#a860b4" opacity="0.6"/>
<circle cx="150.9" cy="739.6" r="3" fill="#a860b4" opacity="0.6"/>
<circle cx="145.1" cy="753.5" r="3" fill="#a860b4" opacity="0.6"/>
<circle cx="62.9" cy="723.4" r="3" fill="#a860b4" opacity="0.7"/>
<circle cx="68.7" cy="731.5" r="3" fill="#a860b4" opacity="0.35"/>
<circle cx="79.1" cy="729.2" r="3" fill="#a860b4" opacity="0.7"/>
<circle cx="49" cy="739.6" r="3" fill="#a860b4" opacity="0.6"/>
<circle cx="62.9" cy="748.9" r="5.5" fill="#a860b4" opacity="0.7"/>
<circle cx="76.8" cy="755.8" r="3" fill="#a860b4" opacity="0.7"/>
<circle cx="30.4" cy="742" r="2.6" fill="#c8a4d4" opacity="0.8"/>
<circle cx="28.1" cy="765" r="2.6" fill="#c8a4d4" opacity="0.8"/>
<circle cx="47.8" cy="769.8" r="2.6" fill="#c8a4d4" opacity="0.8"/>
<circle cx="68.7" cy="772" r="2.6" fill="#c8a4d4" opacity="0.8"/>
<circle cx="102.3" cy="751.2" r="2.6" fill="#c8a4d4" opacity="0.8"/>
<circle cx="170.6" cy="728" r="2.6" fill="#c8a4d4" opacity="0.8"/>
<circle cx="175" cy="732.7" r="2.6" fill="#c8a4d4" opacity="0.8"/>
<circle cx="168.3" cy="749" r="2.6" fill="#c8a4d4" opacity="0.8"/>
<circle cx="161.3" cy="688.7" r="2.6" fill="#c8a4d4" opacity="0.8"/>
<circle cx="182" cy="677" r="2.6" fill="#c8a4d4" opacity="0.8"/>
<circle cx="196" cy="671" r="2.6" fill="#c8a4d4" opacity="0.8"/>
<circle cx="72.1" cy="700.2" r="8.8" fill="url(#gBub)" stroke="#a874b4" stroke-width="0.9"/>
<circle cx="181" cy="717.6" r="9" fill="url(#gBub)" stroke="#a874b4" stroke-width="0.9"/>
<circle cx="84.9" cy="776.7" r="9" fill="url(#gBub)" stroke="#a874b4" stroke-width="0.9"/>
<circle cx="117.3" cy="759.3" r="9" fill="url(#gBub)" stroke="#a874b4" stroke-width="0.9"/>
<circle cx="148.6" cy="665.5" r="4.6" fill="url(#gBub)" stroke="#a874b4" stroke-width="0.9"/>
<circle cx="130" cy="742" r="4.6" fill="url(#gBub)" stroke="#a874b4" stroke-width="0.9"/>
<circle cx="140.5" cy="765.1" r="4.6" fill="url(#gBub)" stroke="#a874b4" stroke-width="0.9"/>
<circle cx="168.3" cy="673.6" r="6.5" fill="url(#gBub)" stroke="#a874b4" stroke-width="0.9"/>
<circle cx="184.5" cy="656.2" r="2.2" fill="#f0b8b0"/>
<circle cx="35.1" cy="774.4" r="2" fill="#f0b8b0"/>
<circle cx="38.5" cy="779" r="2" fill="#f0b8b0"/>
<path d="M174,599.3 C175,615 170,630 160,644" fill="none" stroke="#1a1a1a" stroke-width="2.2"/>
<g transform="translate(156.7,649) rotate(124)"><path d="M0,0 L-11,-4.5 L-8.8,0 L-11,4.5 Z" fill="#1a1a1a"/></g>
<path d="M735.8,662.1 Q736.3,678.9 733.0,691.1 L745.0,690.5 Q740.7,678.7 739.8,661.9 A2.0,2.0 0 0 0 735.8,662.1 Z" fill="#d6a6dc" stroke="#b478bc" stroke-width="2.2" stroke-linejoin="round"/>
<path d="M764.3,662.1 Q755.1,680.0 745.3,691.0 L756.0,696.4 Q759.0,682.0 767.9,663.9 A2.0,2.0 0 0 0 764.3,662.1 Z" fill="#d6a6dc" stroke="#b478bc" stroke-width="2.2" stroke-linejoin="round"/>
<path d="M783.6,692.2 Q773.3,699.8 763.7,702.7 L771.0,712.3 Q776.3,703.8 786.4,695.8 A2.2,2.2 0 0 0 783.6,692.2 Z" fill="#d6a6dc" stroke="#b478bc" stroke-width="2.2" stroke-linejoin="round"/>
<path d="M670.6,738.4 Q686.3,734.5 698.6,735.6 L695.0,722.0 Q684.9,729.1 669.4,733.6 A2.5,2.5 0 0 0 670.6,738.4 Z" fill="#d6a6dc" stroke="#b478bc" stroke-width="2.2" stroke-linejoin="round"/>
<path d="M696.0,769.1 Q702.2,758.4 709.6,752.2 L699.1,746.4 Q697.8,756.0 692.0,766.9 A2.2,2.2 0 0 0 696.0,769.1 Z" fill="#d6a6dc" stroke="#b478bc" stroke-width="2.2" stroke-linejoin="round"/>
<path d="M788.9,769.8 Q780.1,755.8 777.0,743.8 L766.1,750.9 Q775.9,758.6 785.1,772.2 A2.2,2.2 0 0 0 788.9,769.8 Z" fill="#d6a6dc" stroke="#b478bc" stroke-width="2.2" stroke-linejoin="round"/>
<path d="M705.2,661.3 Q708.3,677.5 706.3,689.9 L718.0,687.6 Q711.5,676.9 708.2,660.7 A1.5,1.5 0 0 0 705.2,661.3 Z" fill="#d6a6dc" stroke="#b478bc" stroke-width="2.2" stroke-linejoin="round"/>
<path d="M727.0,667.2 Q728.4,679.8 726.6,689.3 L735.6,688.3 Q731.6,679.4 730.0,666.8 A1.5,1.5 0 0 0 727.0,667.2 Z" fill="#d6a6dc" stroke="#b478bc" stroke-width="2.2" stroke-linejoin="round"/>
<path d="M712.0,684.0 C715.9,682.8 720.6,682.3 725.0,683.0 C729.4,683.7 727.9,686.0 731.0,687.0 C734.1,688.0 735.6,686.2 738.4,687.2 C741.2,688.2 739.1,691.0 743.2,691.2 C747.3,691.4 751.2,688.6 756.0,688.0 C760.8,687.4 763.5,686.8 763.8,688.8 C764.1,690.8 756.0,693.2 757.4,696.7 C758.8,700.2 762.6,701.1 770.0,704.0 C777.4,706.9 784.6,706.7 789.0,709.0 C793.4,711.3 791.6,712.1 789.0,714.0 C786.4,715.9 779.9,715.2 778.0,717.3 C776.1,719.4 776.9,721.2 781.0,723.0 C785.1,724.8 791.0,723.2 795.5,725.2 C800.0,727.2 800.9,727.1 800.2,731.6 C799.5,736.1 797.8,742.1 792.3,744.3 C786.8,746.5 779.8,739.8 776.5,741.1 C773.2,742.4 779.5,747.0 778.0,750.0 C776.5,753.0 773.4,749.9 770.1,753.8 C766.8,757.6 770.4,762.7 763.8,766.5 C757.1,770.3 750.1,770.1 741.6,770.0 C733.1,769.9 731.7,769.8 727.3,766.0 C722.9,762.2 726.3,754.8 722.6,753.8 C718.9,752.8 715.2,761.7 711.5,761.7 C707.8,761.7 709.9,756.1 706.7,753.8 C703.6,751.5 701.0,754.2 698.0,752.0 C695.0,749.8 693.8,746.8 694.0,744.3 C694.2,741.8 699.7,743.7 698.8,741.1 C697.9,738.5 690.7,737.1 690.0,733.0 C689.3,728.9 697.3,728.8 695.6,723.7 C693.9,718.6 682.5,715.1 682.9,711.0 C683.3,706.9 696.8,711.4 697.2,706.2 C697.6,701.0 684.1,692.1 684.5,688.8 C684.9,685.5 695.8,694.2 698.8,692.0 C701.8,689.8 695.0,680.2 697.2,679.3 C699.4,678.4 704.8,686.9 708.3,688.0 C711.8,689.1 708.1,685.2 712.0,684.0 Z" fill="#d6a6dc" stroke="#b478bc" stroke-width="2.2"/>
<path d="M712.0,684.0 C715.9,682.8 720.6,682.3 725.0,683.0 C729.4,683.7 727.9,686.0 731.0,687.0 C734.1,688.0 735.6,686.2 738.4,687.2 C741.2,688.2 739.1,691.0 743.2,691.2 C747.3,691.4 751.2,688.6 756.0,688.0 C760.8,687.4 763.5,686.8 763.8,688.8 C764.1,690.8 756.0,693.2 757.4,696.7 C758.8,700.2 762.6,701.1 770.0,704.0 C777.4,706.9 784.6,706.7 789.0,709.0 C793.4,711.3 791.6,712.1 789.0,714.0 C786.4,715.9 779.9,715.2 778.0,717.3 C776.1,719.4 776.9,721.2 781.0,723.0 C785.1,724.8 791.0,723.2 795.5,725.2 C800.0,727.2 800.9,727.1 800.2,731.6 C799.5,736.1 797.8,742.1 792.3,744.3 C786.8,746.5 779.8,739.8 776.5,741.1 C773.2,742.4 779.5,747.0 778.0,750.0 C776.5,753.0 773.4,749.9 770.1,753.8 C766.8,757.6 770.4,762.7 763.8,766.5 C757.1,770.3 750.1,770.1 741.6,770.0 C733.1,769.9 731.7,769.8 727.3,766.0 C722.9,762.2 726.3,754.8 722.6,753.8 C718.9,752.8 715.2,761.7 711.5,761.7 C707.8,761.7 709.9,756.1 706.7,753.8 C703.6,751.5 701.0,754.2 698.0,752.0 C695.0,749.8 693.8,746.8 694.0,744.3 C694.2,741.8 699.7,743.7 698.8,741.1 C697.9,738.5 690.7,737.1 690.0,733.0 C689.3,728.9 697.3,728.8 695.6,723.7 C693.9,718.6 682.5,715.1 682.9,711.0 C683.3,706.9 696.8,711.4 697.2,706.2 C697.6,701.0 684.1,692.1 684.5,688.8 C684.9,685.5 695.8,694.2 698.8,692.0 C701.8,689.8 695.0,680.2 697.2,679.3 C699.4,678.4 704.8,686.9 708.3,688.0 C711.8,689.1 708.1,685.2 712.0,684.0 Z" fill="#d6a6dc"/>
<path d="M735.8,662.1 Q736.3,678.9 733.0,691.1 L745.0,690.5 Q740.7,678.7 739.8,661.9 A2.0,2.0 0 0 0 735.8,662.1 Z" fill="#d6a6dc"/>
<path d="M764.3,662.1 Q755.1,680.0 745.3,691.0 L756.0,696.4 Q759.0,682.0 767.9,663.9 A2.0,2.0 0 0 0 764.3,662.1 Z" fill="#d6a6dc"/>
<path d="M783.6,692.2 Q773.3,699.8 763.7,702.7 L771.0,712.3 Q776.3,703.8 786.4,695.8 A2.2,2.2 0 0 0 783.6,692.2 Z" fill="#d6a6dc"/>
<path d="M670.6,738.4 Q686.3,734.5 698.6,735.6 L695.0,722.0 Q684.9,729.1 669.4,733.6 A2.5,2.5 0 0 0 670.6,738.4 Z" fill="#d6a6dc"/>
<path d="M696.0,769.1 Q702.2,758.4 709.6,752.2 L699.1,746.4 Q697.8,756.0 692.0,766.9 A2.2,2.2 0 0 0 696.0,769.1 Z" fill="#d6a6dc"/>
<path d="M788.9,769.8 Q780.1,755.8 777.0,743.8 L766.1,750.9 Q775.9,758.6 785.1,772.2 A2.2,2.2 0 0 0 788.9,769.8 Z" fill="#d6a6dc"/>
<path d="M705.2,661.3 Q708.3,677.5 706.3,689.9 L718.0,687.6 Q711.5,676.9 708.2,660.7 A1.5,1.5 0 0 0 705.2,661.3 Z" fill="#d6a6dc"/>
<path d="M727.0,667.2 Q728.4,679.8 726.6,689.3 L735.6,688.3 Q731.6,679.4 730.0,666.8 A1.5,1.5 0 0 0 727.0,667.2 Z" fill="#d6a6dc"/>
<g clip-path="url(#apoclip)"><circle cx="738" cy="724" r="72" fill="url(#gApo)"/></g>
<path d="M720.8,708.4 C722.3,706.7 724.8,704.6 727.1,706.3 C729.4,708.0 729.7,716.3 732.2,716.7 C734.7,717.1 736.8,709.4 739.5,708.4 C742.2,707.4 744.9,709.4 745.7,711.5 C746.5,713.6 742.0,718.4 743.7,718.8 C745.4,719.2 751.5,713.8 754.0,713.6 C756.5,713.4 757.3,715.4 756.1,717.7 C754.9,720.0 748.6,722.3 747.8,725.0 C747.0,727.7 751.9,729.3 751.9,731.2 C751.9,733.1 750.3,734.7 747.8,734.3 C745.3,733.9 741.6,728.1 739.5,729.1 C737.4,730.1 738.9,737.4 737.4,739.5 C735.9,741.6 733.4,741.6 732.2,739.5 C731.0,737.4 733.1,730.8 731.2,729.1 C729.3,727.4 725.0,731.6 722.9,731.2 C720.8,730.8 720.0,729.2 720.8,727.1 C721.6,725.0 727.3,723.3 727.1,720.8 C726.9,718.3 721.1,717.1 719.8,714.6 C718.5,712.1 719.3,710.1 720.8,708.4 Z" fill="#c890cc"/>
<circle cx="706.7" cy="696.7" r="5.7" fill="#b87cc2" opacity="0.7"/>
<circle cx="721.8" cy="699.1" r="2.5" fill="#b87cc2" opacity="0.6"/>
<circle cx="732.1" cy="703.8" r="2.5" fill="#b87cc2" opacity="0.35"/>
<circle cx="754.3" cy="698.3" r="2.5" fill="#b87cc2" opacity="0.35"/>
<circle cx="711.5" cy="718.1" r="3" fill="#b87cc2" opacity="0.5"/>
<circle cx="707.5" cy="730.8" r="2.5" fill="#b87cc2" opacity="0.35"/>
<circle cx="698.8" cy="727.6" r="2.5" fill="#b87cc2" opacity="0.6"/>
<circle cx="703.5" cy="744.3" r="3" fill="#b87cc2" opacity="0.6"/>
<circle cx="725" cy="738.7" r="6" fill="#b87cc2" opacity="0.5"/>
<circle cx="749.5" cy="740.3" r="6" fill="#b87cc2" opacity="0.35"/>
<circle cx="730.5" cy="749" r="2.5" fill="#b87cc2" opacity="0.35"/>
<circle cx="747.1" cy="755.4" r="2.5" fill="#b87cc2" opacity="0.6"/>
<circle cx="767" cy="739.5" r="2.5" fill="#b87cc2" opacity="0.6"/>
<circle cx="763.8" cy="761.7" r="2.5" fill="#b87cc2" opacity="0.6"/>
<circle cx="787.6" cy="728.4" r="3" fill="#b87cc2" opacity="0.6"/>
<circle cx="737.8" cy="659.6" r="9.4" fill="url(#gBubA)" stroke="#b478bc" stroke-width="1"/>
<circle cx="766.1" cy="660.6" r="9" fill="url(#gBubA)" stroke="#b478bc" stroke-width="1"/>
<circle cx="787.6" cy="691.8" r="10" fill="url(#gBubA)" stroke="#b478bc" stroke-width="1"/>
<circle cx="771.7" cy="721.3" r="8.5" fill="url(#gBubA)" stroke="#b478bc" stroke-width="1"/>
<circle cx="667.6" cy="736.7" r="12" fill="url(#gBubA)" stroke="#b478bc" stroke-width="1"/>
<circle cx="692.9" cy="769.9" r="9.5" fill="url(#gBubA)" stroke="#b478bc" stroke-width="1"/>
<circle cx="741.6" cy="771" r="9.5" fill="url(#gBubA)" stroke="#b478bc" stroke-width="1"/>
<circle cx="789.5" cy="773.8" r="10" fill="url(#gBubA)" stroke="#b478bc" stroke-width="1"/>
<circle cx="689.3" cy="724.4" r="4" fill="url(#gBubA)" stroke="#b478bc" stroke-width="1"/>
<circle cx="725" cy="683.2" r="4" fill="url(#gBubA)" stroke="#b478bc" stroke-width="1"/>
<circle cx="727" cy="758.2" r="4" fill="url(#gBubA)" stroke="#b478bc" stroke-width="1"/>
<path d="M342.0,730.6 C295.1,771.7 231.7,786.4 172.5,800.4" fill="none" stroke="#1a1a1a" stroke-width="2.1"/>
<g transform="translate(164.6,802.3) rotate(166.6)"><path d="M0,0 L-12,-4.5 L-9.600000000000001,0 L-12,4.5 Z" fill="#1a1a1a"/></g>
<path d="M495.4,730.2 C538.4,776.4 606.9,784.4 664.9,799.6" fill="none" stroke="#1a1a1a" stroke-width="2.1"/>
<g transform="translate(672.7,801.7) rotate(15.6)"><path d="M0,0 L-12,-4.5 L-9.600000000000001,0 L-12,4.5 Z" fill="#1a1a1a"/></g>
<text x="281.30" y="759.4" font-size="17.5" font-weight="bold" font-style="normal" fill="#1e1e1e" stroke="#1e1e1e" stroke-width="0.7" textLength="6.71" lengthAdjust="spacingAndGlyphs" >?</text>
<text x="552.00" y="759.4" font-size="17.5" font-weight="bold" font-style="normal" fill="#1e1e1e" stroke="#1e1e1e" stroke-width="0.7" textLength="6.71" lengthAdjust="spacingAndGlyphs" >?</text>
<text x="71.00" y="809.6" font-size="15.8" font-weight="bold" font-style="normal" fill="#1e1e1e" stroke="#1e1e1e" stroke-width="0.2" textLength="85.97" lengthAdjust="spacingAndGlyphs" >Pyroptosis</text>
<text x="687.80" y="810.7" font-size="15.8" font-weight="bold" font-style="normal" fill="#1e1e1e" stroke="#1e1e1e" stroke-width="0.2" textLength="81.18" lengthAdjust="spacingAndGlyphs" >Apoptosis</text>
<rect x="313.9" y="760.7" width="184.2" height="89.5" fill="#fefefe" stroke="#a8a8a8" stroke-width="1.1"/>
<text x="334.90" y="784.9" font-size="14.8" font-weight="bold" font-style="normal" fill="#1e1e1e" stroke="#1e1e1e" stroke-width="0.2" textLength="140.79" lengthAdjust="spacingAndGlyphs" >Cell death decisions</text>
<text x="338.90" y="801.8" font-size="14.6" font-weight="normal" font-style="normal" fill="#333333" stroke="#333333" stroke-width="0.0" textLength="132.78" lengthAdjust="spacingAndGlyphs" >• Priming conditions</text>
<text x="330.90" y="818.4" font-size="14.6" font-weight="normal" font-style="normal" fill="#333333" stroke="#333333" stroke-width="0.0" textLength="149.38" lengthAdjust="spacingAndGlyphs" >• Cell type (expression)</text>
<text x="330.90" y="835.3" font-size="14.6" font-weight="normal" font-style="normal" fill="#333333" stroke="#333333" stroke-width="0.0" textLength="150.17" lengthAdjust="spacingAndGlyphs" >• PAMP/DAMP features</text>
</svg></body></html>
